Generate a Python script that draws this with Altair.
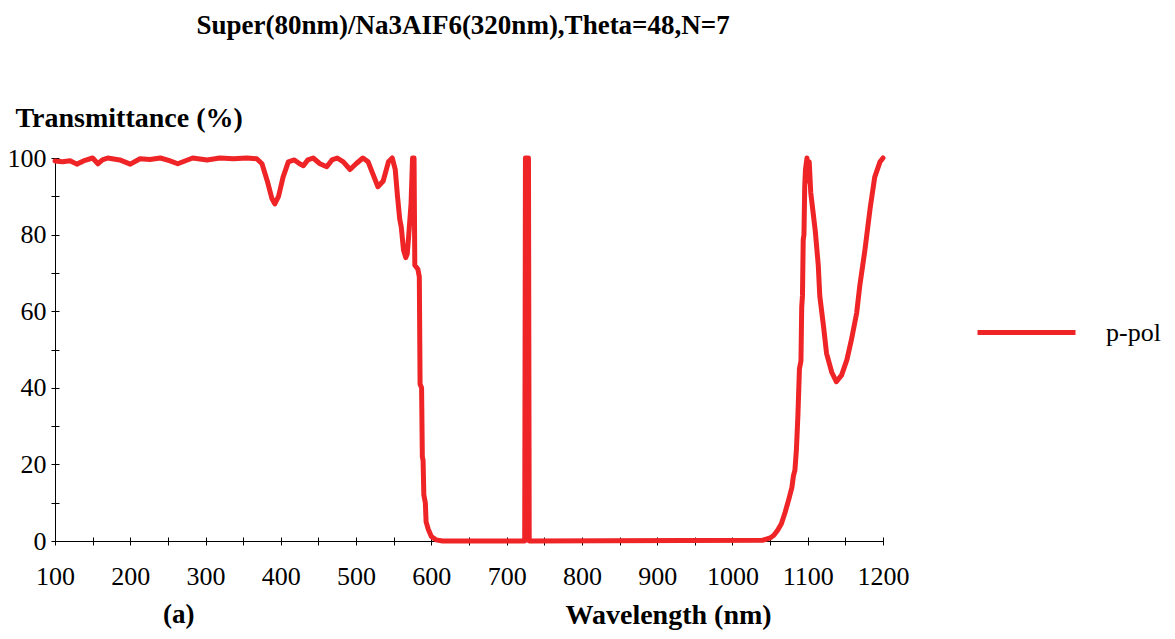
import altair as alt
import pandas as pd

# ---- data ----
wavelength = [100, 110, 120, 129, 140, 150, 157, 163, 170, 186, 200, 213, 226, 240, 252, 263,
              283, 302, 319, 337, 355, 368, 375, 382, 388, 392, 397, 403, 410, 418, 425, 430,
              436, 443, 452, 461, 468, 475, 483, 492, 500, 509, 516, 522, 529, 536, 543, 548,
              552, 555, 558, 560, 563, 566, 568, 570, 573, 575, 577, 578, 582, 584, 585, 587,
              588, 589, 590, 592, 593, 596, 600, 606, 615,
              724, 725, 729, 730,
              1040, 1045, 1050, 1055, 1060, 1065, 1070, 1075, 1079, 1081, 1083, 1085, 1087,
              1089, 1091, 1092, 1093, 1094, 1095, 1096, 1097, 1099, 1101, 1102, 1104, 1107,
              1110, 1114, 1116, 1121, 1125, 1132, 1138, 1145, 1152, 1158, 1165, 1169, 1176,
              1183, 1189, 1196, 1200]
transmittance = [99.2, 99.0, 99.3, 98.4, 99.4, 100, 98.5, 99.5, 100, 99.5, 98.4, 99.8, 99.6, 100, 99.3, 98.5,
                 100, 99.5, 100, 99.8, 100, 99.8, 98.5, 94, 89.5, 88, 90, 95, 99, 99.5, 98.5, 98,
                 99.5, 100, 98.5, 97.7, 99.5, 100, 99, 97, 98.5, 100, 99, 96, 92.5, 94, 99, 100,
                 97, 90, 84, 82, 76, 74, 75, 80, 88, 100, 100, 72, 71, 69, 41, 40,
                 22, 21, 12, 10, 5, 3, 1.2, 0.3, 0,
                 0, 100, 100, 0,
                 0.2, 0.5, 0.8, 1.5, 2.8, 4.5, 7.5, 11, 14, 17, 18.5, 24, 33,
                 45, 47, 61, 64, 78.6, 80, 92.5, 97, 100, 94, 99, 91, 86,
                 81, 72, 64, 56, 49, 44, 41.6, 43.3, 47.3, 52.5, 59.5, 66.4, 76,
                 87, 95, 99, 100]
series_name = "p-pol"
chart_title = "Super(80nm)/Na3AIF6(320nm),Theta=48,N=7"
panel_tag = "(a)"

x_tick_values = list(range(100, 1201, 50))
y_tick_values = list(range(0, 101, 10))

df = pd.DataFrame({"Wavelength": wavelength, "T": transmittance, "series": series_name})

FONT = "Liberation Serif"
RED = "#ef2427"

xscale = alt.Scale(domain=[100, 1200], nice=False, zero=False)
yscale = alt.Scale(domain=[0, 100], nice=False, zero=False)

line = alt.Chart(df).mark_line(strokeWidth=5, strokeJoin="round", strokeCap="round").encode(
    x=alt.X("Wavelength:Q", scale=xscale,
            axis=alt.Axis(orient="bottom", values=x_tick_values, format="d",
                          labelExpr="datum.value % 100 == 0 ? datum.label : ''",
                          offset=-4, tickSize=8, tickColor="black", tickWidth=1,
                          domain=False, grid=False,
                          labelFont=FONT, labelFontSize=26, labelColor="black",
                          labelPadding=18, labelFlush=False, labelOverlap=False,
                          title="Wavelength (nm)", titleFont=FONT, titleFontSize=28,
                          titleFontWeight="bold", titleColor="black",
                          titleX=510, titleY=86, titleAlign="left",
                          titleBaseline="alphabetic", titleAnchor="start")),
    y=alt.Y("T:Q", scale=yscale,
            axis=alt.Axis(orient="left", values=y_tick_values,
                          labelExpr="datum.value % 20 == 0 ? datum.label : ''",
                          offset=-4, tickSize=8, tickColor="black", tickWidth=1,
                          domain=False, grid=False,
                          labelFont=FONT, labelFontSize=26, labelColor="black",
                          labelPadding=5, labelFlush=False, labelOverlap=False,
                          title="Transmittance (%)", titleFont=FONT, titleFontSize=28,
                          titleFontWeight="bold", titleColor="black", titleAngle=0,
                          titleX=-44, titleY=-32, titleAlign="left",
                          titleBaseline="alphabetic", titleAnchor="start")),
    color=alt.Color("series:N", scale=alt.Scale(range=[RED]),
                    legend=alt.Legend(orient="none", legendX=920, legendY=123, title=None,
                                      symbolType="stroke", symbolSize=9604,
                                      symbolStrokeWidth=5, labelFont=FONT,
                                      labelFontSize=26, labelColor="black",
                                      labelOffset=28, padding=0)),
)

frame = alt.Chart(df).mark_line(opacity=0).encode(
    x=alt.X("Wavelength:Q", scale=xscale,
            axis=alt.Axis(orient="bottom", domain=True, domainColor="black", domainWidth=1,
                          ticks=False, labels=False, grid=False, title=None)),
    y=alt.Y("T:Q", scale=yscale,
            axis=alt.Axis(orient="left", domain=True, domainColor="black", domainWidth=1,
                          ticks=False, labels=False, grid=False, title=None)),
)

panel_label = alt.Chart(pd.DataFrame({"label": [panel_tag]})).mark_text(
    font=FONT, fontSize=27, fontWeight="bold", align="left", baseline="alphabetic", color="black"
).encode(x=alt.value(108), y=alt.value(465), text="label:N")

title_text = alt.Chart(pd.DataFrame({"label": [chart_title]})).mark_text(
    font=FONT, fontSize=27, fontWeight="bold", align="center", baseline="alphabetic", color="black"
).encode(x=alt.value(408), y=alt.value(-124), text="label:N")

chart = alt.layer(frame, line, panel_label, title_text).resolve_axis(
    x="independent", y="independent"
).resolve_scale(x="shared", y="shared").properties(
    width=828, height=383,
    autosize=alt.AutoSizeParams(type="none"),
    padding={"left": 47, "top": 150, "right": 284, "bottom": 90},
    background="white",
).configure_view(stroke=None)

chart.save("out.html", embed_options={"renderer": "svg", "actions": False})
